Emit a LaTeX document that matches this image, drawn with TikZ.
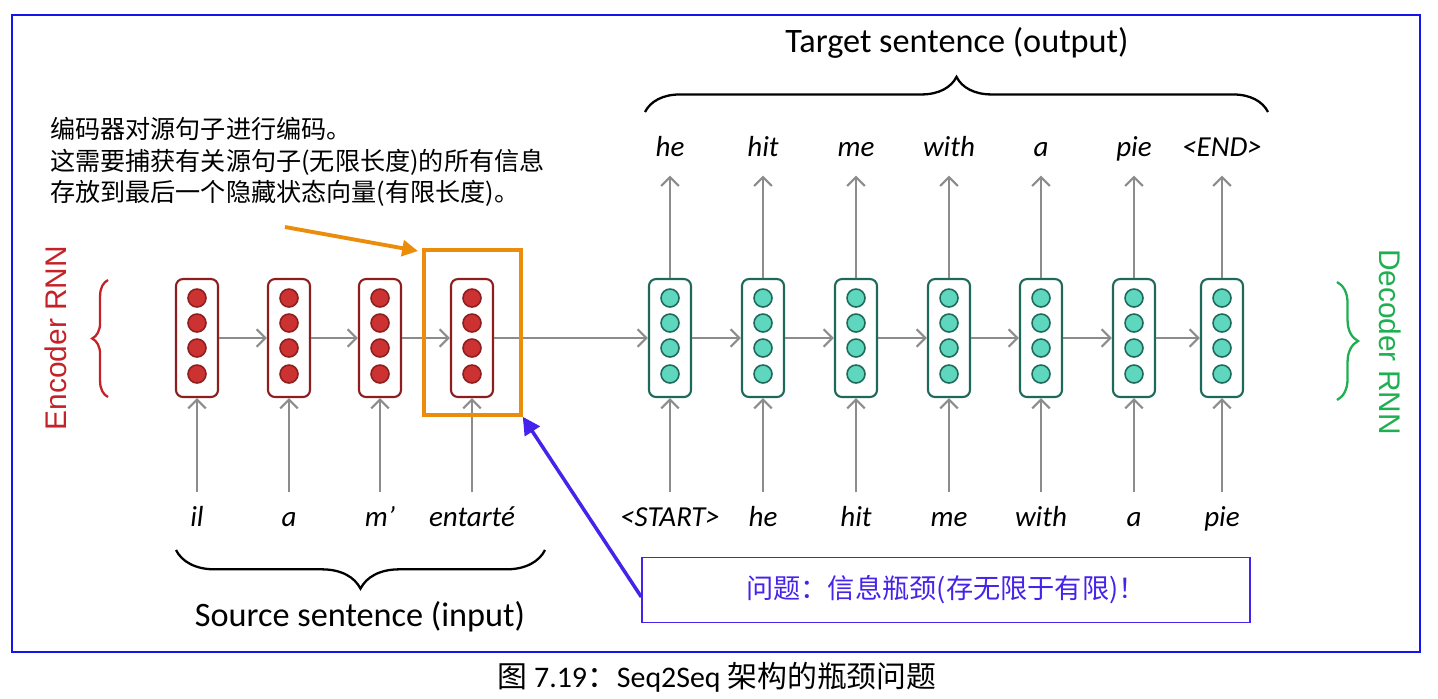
\documentclass[tikz,border=0pt]{standalone}
\usepackage{fontspec}
\setmainfont{Carlito}
\newfontfamily\cjkfont{Noto Sans CJK SC}
\newfontfamily\arialfont{Liberation Sans}
\usetikzlibrary{arrows.meta,decorations.pathreplacing,calc}
\definecolor{encline}{RGB}{140,30,30}
\definecolor{encdot}{RGB}{205,50,50}
\definecolor{decline}{RGB}{30,105,90}
\definecolor{decdot}{RGB}{95,215,190}
\definecolor{flowgrey}{RGB}{140,140,140}
\definecolor{encred}{RGB}{195,35,40}
\definecolor{decgreen}{RGB}{30,175,80}
\definecolor{hiorange}{RGB}{235,140,10}
\definecolor{noteblue}{RGB}{70,35,235}
\definecolor{framebl}{RGB}{20,20,235}

\begin{document}
\begin{tikzpicture}
[
x=0.02cm, y=-0.02cm,
enccell/.style={draw=encline,line width=1.2pt,rounded corners=4pt,fill=white,
  minimum width=0.84cm,minimum height=2.36cm,inner sep=0pt},
deccell/.style={enccell,draw=decline},
encball/.style={draw=encline,fill=encdot,line width=0.9pt},
decball/.style={draw=decline,fill=decdot,line width=0.9pt},
word/.style={inner sep=2pt,text height=12pt,text depth=4pt,font=\fontsize{16.5}{19}\selectfont\itshape},
flow/.style={draw=flowgrey,line width=1.2pt,-{Straight Barb[length=5pt,width=10pt]}},
sentence/.style={font=\fontsize{19.5}{23}\selectfont},
curly/.style 2 args={decorate,decoration={brace,amplitude=#1},line width=1.3pt,draw=#2},
rnnname/.style={font=\arialfont\fontsize{17}{20}\selectfont},
]
\useasboundingbox (0,0) rectangle (1438,698);

%Frame and caption
\draw[framebl,line width=1.3pt] (12,15) rectangle (1420,652);
\node (caption) at (717,677) {\fontsize{17}{20}\selectfont{\cjkfont 图} 7.19{\cjkfont ：}Seq2Seq {\cjkfont 架构的瓶颈问题}};

%Encoder cells
\node[enccell] (enc1) at (197,338) {};
\node[enccell] (enc2) at (289,338) {};
\node[enccell] (enc3) at (380,338) {};
\node[enccell] (enc4) at (472,338) {};
%Decoder cells
\node[deccell] (dec1) at (670,338) {};
\node[deccell] (dec2) at (763,338) {};
\node[deccell] (dec3) at (856,338) {};
\node[deccell] (dec4) at (949,338) {};
\node[deccell] (dec5) at (1041,338) {};
\node[deccell] (dec6) at (1134,338) {};
\node[deccell] (dec7) at (1222,338) {};
%Hidden units
\foreach \c in {enc1,enc2,enc3,enc4}
  \foreach \k in {-40,-15,10,36}
    \draw[encball] ($(\c)+(0,\k)$) circle [radius=0.18cm];
\foreach \c in {dec1,dec2,dec3,dec4,dec5,dec6,dec7}
  \foreach \k in {-40,-15,10,36}
    \draw[decball] ($(\c)+(0,\k)$) circle [radius=0.18cm];

%Recurrent connections
\draw[flow] (enc1) -- (enc2);
\draw[flow] (enc2) -- (enc3);
\draw[flow] (enc3) -- (enc4);
\draw[flow] (enc4) -- (dec1);
\draw[flow] (dec1) -- (dec2);
\draw[flow] (dec2) -- (dec3);
\draw[flow] (dec3) -- (dec4);
\draw[flow] (dec4) -- (dec5);
\draw[flow] (dec5) -- (dec6);
\draw[flow] (dec6) -- (dec7);

%Input words
\node[word] (in1) at (197,519) {il};
\node[word] (in2) at (289,519) {a};
\node[word] (in3) at (380,519) {m’};
\node[word] (in4) at (472,519) {entarté};
\node[word] (in5) at (670,519) {<START>};
\node[word] (in6) at (763,519) {he};
\node[word] (in7) at (856,519) {hit};
\node[word] (in8) at (949,519) {me};
\node[word] (in9) at (1041,519) {with};
\node[word] (in10) at (1134,519) {a};
\node[word] (in11) at (1222,519) {pie};
\draw[flow,shorten <=5pt] (in1) -- (enc1);
\draw[flow,shorten <=5pt] (in2) -- (enc2);
\draw[flow,shorten <=5pt] (in3) -- (enc3);
\draw[flow,shorten <=5pt] (in4) -- (enc4);
\draw[flow,shorten <=5pt] (in5) -- (dec1);
\draw[flow,shorten <=5pt] (in6) -- (dec2);
\draw[flow,shorten <=5pt] (in7) -- (dec3);
\draw[flow,shorten <=5pt] (in8) -- (dec4);
\draw[flow,shorten <=5pt] (in9) -- (dec5);
\draw[flow,shorten <=5pt] (in10) -- (dec6);
\draw[flow,shorten <=5pt] (in11) -- (dec7);

%Output words
\node[word] (out1) at (670,149) {he};
\node[word] (out2) at (763,149) {hit};
\node[word] (out3) at (856,149) {me};
\node[word] (out4) at (949,149) {with};
\node[word] (out5) at (1041,149) {a};
\node[word] (out6) at (1134,149) {pie};
\node[word] (out7) at (1222,149) {<END>};
\draw[flow,shorten >=5pt] (dec1) -- (out1);
\draw[flow,shorten >=5pt] (dec2) -- (out2);
\draw[flow,shorten >=5pt] (dec3) -- (out3);
\draw[flow,shorten >=5pt] (dec4) -- (out4);
\draw[flow,shorten >=5pt] (dec5) -- (out5);
\draw[flow,shorten >=5pt] (dec6) -- (out6);
\draw[flow,shorten >=5pt] (dec7) -- (out7);

%Sentences and braces
\node[sentence] (target) at (957,43) {Target sentence (output)};
\node[sentence] (source) at (360,617) {Source sentence (input)};
\draw[curly={20pt}{black}] (645,112) -- (1268,112);
\draw[curly={22pt}{black}] (545,550) -- (176,550);

%RNN names
\node[rnnname,text=encred,rotate=90] (encname) at (56,338) {Encoder RNN};
\node[rnnname,text=decgreen,rotate=-90] (decname) at (1390,342) {Decoder RNN};
\draw[curly={9pt}{encred}] (108,397) -- (108,280);
\draw[curly={12pt}{decgreen}] (1337,282) -- (1337,400);

%Bottleneck
\node[draw=hiorange,line width=2pt,minimum width=1.94cm,minimum height=3.3cm,inner sep=0pt] (focus) at (472.5,332.5) {};
\node[anchor=west,align=left,font=\cjkfont\fontsize{14.3}{17.8}\selectfont] (explain) at (44,162)
  {编码器对源句子进行编码。\\这需要捕获有关源句子(无限长度)的所有信息\\存放到最后一个隐藏状态向量(有限长度)。};
\coordinate (orangestart) at (285,227);
\coordinate (orangeend) at (418,251);
\draw[hiorange,line width=2.2pt,-{Triangle[length=9pt,width=9pt]}] (orangestart) -- (orangeend);
\node[draw=noteblue,line width=0.8pt,minimum width=12.16cm,minimum height=1.3cm,
  text=noteblue,font=\cjkfont\fontsize{15.5}{18}\selectfont] (note) at (946,590) {问题：信息瓶颈(存无限于有限)！};
\draw[noteblue,line width=2pt,-{Triangle[length=10pt,width=10pt]}] ([yshift=-0.14cm]note.west) -- (focus.south east);
\end{tikzpicture}
\end{document}
